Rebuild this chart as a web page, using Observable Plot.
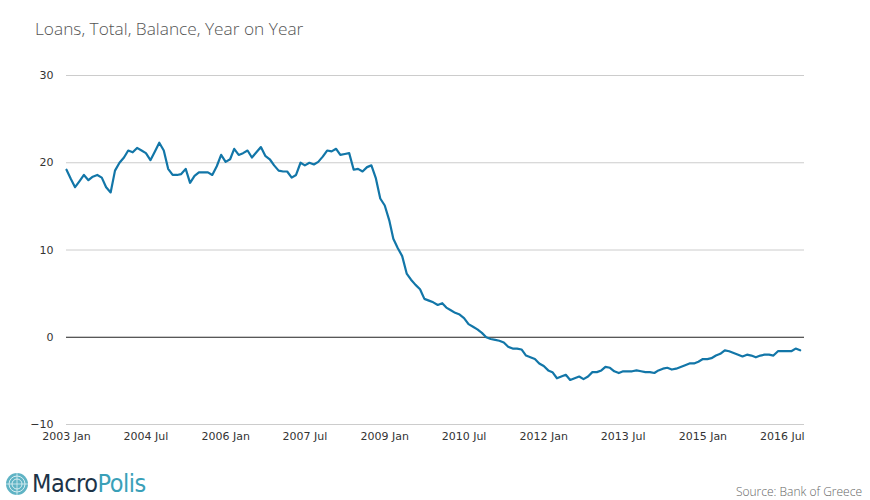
<!DOCTYPE html>
<html>
<head>
<meta charset="utf-8">
<script src="https://cdn.jsdelivr.net/npm/d3@7"></script>
<script src="https://cdn.jsdelivr.net/npm/@observablehq/plot@0.6"></script>
<style>
  html, body { margin: 0; padding: 0; background: #fff; }
  #wrap { position: relative; width: 870px; height: 500px; overflow: hidden; }
  #title { position: absolute; left: 35px; top: 17px; font-family: "Open Sans", Lato, sans-serif; font-size: 17.3px; color: #555; font-weight: 300; }
  #chart { position: absolute; left: 0; top: 50px; }
  #logo { position: absolute; left: 5px; top: 469px; display: flex; align-items: center; }
  #logo span.t { font-family: "Liberation Sans Narrow", "DejaVu Sans Condensed", sans-serif; font-size: 25px; letter-spacing: -0.5px; margin-left: 3px; }
  #source { position: absolute; right: 8px; top: 483px; font-family: "Open Sans", Lato, sans-serif; font-size: 12px; color: #666; font-weight: 300; }
</style>
</head>
<body>
<div id="wrap">
  <div id="title">Loans, Total, Balance, Year on Year</div>
  <div id="chart"></div>
  <div id="logo">
    <svg width="24" height="24" viewBox="0 0 24 24">
      <circle cx="12" cy="12" r="11" fill="#5fb3c4"/>
      <circle cx="12" cy="12" r="8" fill="none" stroke="#d8eef2" stroke-width="1"/>
      <circle cx="12" cy="12" r="5" fill="none" stroke="#d8eef2" stroke-width="1"/>
      <path d="M12 1 L12 23 M1 12 L23 12" stroke="#d8eef2" stroke-width="0.8"/>
    </svg>
    <span class="t"><span style="color:#1d3348">Macro</span><span style="color:#3aa0b8">Polis</span></span>
  </div>
  <div id="source">Source: Bank of Greece</div>
</div>
<script>
const startMonth = "2003-01";
const endMonth = "2016-12";
const loansYoY = [
  19.2, 18.1, 17.2, 17.9, 18.6, 18.0, 18.4, 18.6, 18.3, 17.2, 16.6, 19.1,
  20.0, 20.6, 21.4, 21.2, 21.7, 21.4, 21.1, 20.3, 21.3, 22.3, 21.4, 19.3,
  18.6, 18.6, 18.7, 19.3, 17.7, 18.5, 18.9, 18.9, 18.9, 18.6, 19.6, 20.9,
  20.1, 20.4, 21.6, 20.9, 21.1, 21.4, 20.6, 21.2, 21.8, 20.8, 20.4, 19.7,
  19.1, 19.0, 19.0, 18.3, 18.6, 20.0, 19.7, 20.0, 19.8, 20.1, 20.7, 21.4,
  21.3, 21.6, 20.9, 21.0, 21.1, 19.2, 19.3, 19.0, 19.5, 19.7, 18.2, 15.9,
  15.1, 13.4, 11.3, 10.2, 9.3, 7.3, 6.6, 6.0, 5.5, 4.4, 4.2, 4.0,
  3.7, 3.9, 3.4, 3.1, 2.8, 2.6, 2.2, 1.5, 1.2, 0.9, 0.5, 0.0,
  -0.2, -0.3, -0.4, -0.6, -1.1, -1.3, -1.3, -1.4, -2.1, -2.3, -2.5, -3.0,
  -3.3, -3.8, -4.0, -4.7, -4.5, -4.3, -4.9, -4.7, -4.5, -4.8, -4.5, -4.0,
  -4.0, -3.8, -3.4, -3.5, -3.9, -4.1, -3.9, -3.9, -3.9, -3.8, -3.9, -4.0,
  -4.0, -4.1, -3.8, -3.6, -3.5, -3.7, -3.6, -3.4, -3.2, -3.0, -3.0, -2.8,
  -2.5, -2.5, -2.4, -2.1, -1.9, -1.5, -1.6, -1.8, -2.0, -2.2, -2.0, -2.1,
  -2.3, -2.1, -2.0, -2.0, -2.1, -1.6, -1.6, -1.6, -1.6, -1.3, -1.5
];
const xTickLabels = ["2003 Jan", "2004 Jul", "2006 Jan", "2007 Jul", "2009 Jan", "2010 Jul", "2012 Jan", "2013 Jul", "2015 Jan", "2016 Jul"];
const yTicks = [-10, 0, 10, 20, 30];
const gridValues = [-10, 10, 20, 30];

const parseMonth = d3.utcParse("%Y-%m");
const parseLabel = d3.utcParse("%Y %b");
const fmtLabel = d3.utcFormat("%Y %b");
const t0 = parseMonth(startMonth);
const data = loansYoY.map((v, i) => ({date: d3.utcMonth.offset(t0, i), value: v}));
const xTicks = xTickLabels.map(parseLabel);

const chart = Plot.plot({
  width: 870,
  height: 410,
  marginLeft: 66,
  marginRight: 66,
  marginTop: 25,
  marginBottom: 36,
  style: {fontFamily: "'DejaVu Sans', sans-serif", fontSize: "11px", color: "#333", background: "transparent"},
  x: {type: "utc", domain: [t0, parseMonth(endMonth)], ticks: xTicks, tickFormat: fmtLabel, tickSize: 0, tickPadding: 8, label: null},
  y: {domain: [-10, 30], ticks: yTicks, tickSize: 0, tickPadding: 13, label: null},
  marks: [
    Plot.ruleY(gridValues, {stroke: "#cccccc", strokeWidth: 1}),
    Plot.ruleY([0], {stroke: "#222", strokeWidth: 1}),
    Plot.line(data, {x: "date", y: "value", stroke: "#1276a8", strokeWidth: 2.2, curve: "linear"})
  ]
});
document.getElementById("chart").appendChild(chart);
</script>
</body>
</html>
